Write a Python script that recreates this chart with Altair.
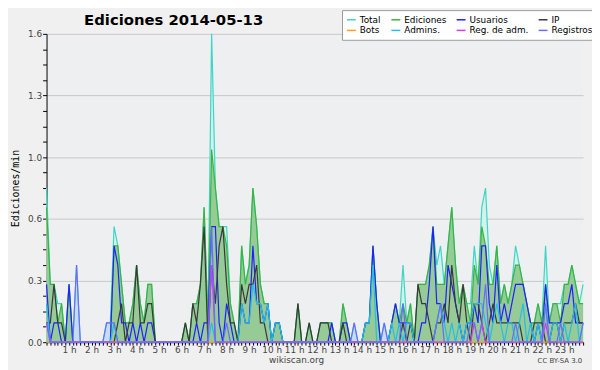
import altair as alt
import pandas as pd

# 10-minute steps over the day (144 points), values in edits/min
series = ["Total", "Ediciones", "Usuarios", "IP", "Bots", "Admins.", "Reg. de adm.", "Registros"]
colors = ["#3dd5c5", "#3cb43c", "#1f1fff", "#383838", "#ffa020", "#22bfe6", "#d23cf0", "#6a6aff"]

total = [
    .8, .3, .3, .2, .2, 0,   .3, 0, .4, 0, 0, 0,   0, 0, 0, 0, .1, .1,
    .6, .5, .3, .1, .1, .2,  .4, .2, .1, .3, .3, 0,  0, 0, 0, 0, 0, 0,
    0, .1, 0, .2, .2, .3,    .7, .1, 1.6, .8, .6, .6,  .6, .2, .1, 0, .5, .3,
    .4, .8, .6, .3, .2, .2,  0, .1, .1, 0, 0, 0,   0, .2, 0, 0, .1, 0,
    0, .1, .1, .1, .1, 0,    0, .2, .1, 0, .1, 0,  0, .1, .1, .5, .2, 0,
    .1, 0, .1, .2, .1, .4,   .1, .2, 0, .3, .3, .3,  .4, .6, .4, .5, .3, .5,
    .7, .4, .2, .3, .2, .2,  .5, .3, .7, .8, .4, .3,  .5, .2, .3, .2, .3, .5,
    .4, .3, .2, .1, .1, .2,  .1, .5, .1, .2, .2, .2,  .3, .3, .4, .3, .2, .3,
]
ediciones = [
    .7, .3, .3, .1, .2, 0,   .3, 0, 0, 0, 0, 0,   0, 0, 0, 0, 0, 0,
    .5, .5, .3, .1, .1, .2,  .4, .2, .1, .3, .3, 0,  0, 0, 0, 0, 0, 0,
    0, .1, 0, .2, .2, .3,    .7, .1, 1.0, .8, .6, .6,  .5, .2, .1, 0, .5, .3,
    .4, .8, .6, .3, .2, .2,  0, .1, .1, 0, 0, 0,   0, .2, 0, 0, .1, 0,
    0, .1, .1, .1, .1, 0,    0, .2, .1, 0, 0, 0,   0, .1, .1, .5, .2, 0,
    0, 0, .1, .2, .1, .2,    .1, .2, 0, .3, .3, .3,  .4, .6, .3, .3, .3, .5,
    .7, .4, .2, .3, .2, .1,  .4, .3, .6, .5, .3, .3,  .5, .2, .3, .2, .3, .4,
    .4, .3, .2, .1, .1, .2,  .1, .3, .1, .2, .2, .1,  .3, .3, .4, .3, .2, .2,
]
usuarios = [
    .3, 0, .1, .1, 0, 0,     .3, 0, 0, 0, 0, 0,   0, 0, 0, 0, 0, 0,
    .5, .4, .1, .1, 0, .1,   0, .1, 0, .1, .1, 0,  0, 0, 0, 0, 0, 0,
    0, 0, 0, 0, .1, 0,       .1, .1, .6, .6, .1, 0,  .2, .1, 0, 0, .2, .1,
    .1, .5, .2, .2, .1, .2,  0, .1, .1, 0, 0, 0,   0, 0, 0, 0, 0, 0,
    0, 0, 0, 0, .1, 0,       0, .1, .1, 0, 0, 0,   0, .1, .1, .5, .2, 0,
    0, 0, .1, .2, .1, .1,    .1, .1, 0, 0, .1, .1,  .3, .6, .2, .2, .1, .4,
    .3, .2, .1, 0, .1, .1,   .2, .1, .5, .5, .2, .1,  .4, .1, .2, .1, .2, .3,
    .3, .3, .2, .1, 0, .1,   0, .3, .1, .1, .1, .1,  .2, .2, .3, .1, .1, .1,
]
ip = [
    .1, .1, .3, .1, .1, 0,   0, 0, 0, 0, 0, 0,   0, 0, 0, 0, 0, 0,
    0, .1, .2, 0, .1, .1,    .4, .1, .1, .2, .2, 0,  0, 0, 0, 0, 0, 0,
    0, .1, 0, .2, .1, .3,    .6, 0, .4, .2, .5, .6,  .3, .1, .1, 0, .3, .2,
    .3, .3, .4, .1, .1, 0,   0, 0, 0, 0, 0, 0,   0, .2, 0, 0, .1, 0,
    0, .1, .1, .1, 0, 0,     0, .1, 0, 0, 0, 0,   0, 0, 0, 0, 0, 0,
    0, 0, 0, 0, 0, .1,       0, .1, 0, .3, .2, .2,  .1, 0, .1, .1, .2, .1,
    .4, .2, .1, .3, .1, 0,   .2, .2, .1, 0, .1, .2,  .1, .1, .1, .1, .1, .1,
    .1, 0, 0, 0, .1, .1,     .1, 0, 0, .1, .1, 0,  .1, .1, .1, .2, .1, .1,
]
bots = [0] * 144
admins = [
    .2, 0, 0, 0, 0, 0,       0, 0, 0, 0, 0, 0,   0, 0, 0, 0, 0, 0,
    .1, 0, 0, 0, 0, 0,       0, 0, 0, 0, 0, 0,   0, 0, 0, 0, 0, 0,
    0, 0, 0, 0, 0, 0,        0, 0, .1, 0, 0, 0,  0, 0, 0, 0, .2, .1,
    .1, .3, .2, .2, .1, .2,  0, .1, .1, 0, 0, 0,  0, 0, 0, 0, 0, 0,
    0, 0, 0, 0, 0, 0,        0, 0, 0, 0, 0, 0,   0, .1, .1, .4, 0, 0,
    0, 0, .1, 0, .1, 0,      .1, .1, 0, 0, 0, 0,  0, 0, .1, .2, .1, 0,
    .1, 0, .1, 0, .1, .1,    .2, .2, .2, .1, 0, .1,  .2, .1, 0, .1, .1, 0,
    .1, .2, 0, .1, 0, .1,    0, .2, 0, .1, .1, 0,  .1, 0, .1, .2, 0, .1,
]
reg_adm = [
    .1, 0, 0, 0, 0, 0,       0, 0, 0, 0, 0, 0,   0, 0, 0, 0, 0, 0,
    0, 0, 0, 0, 0, 0,        0, 0, 0, 0, 0, 0,   0, 0, 0, 0, 0, 0,
    0, 0, 0, 0, 0, 0,        0, 0, .4, 0, 0, 0,  0, 0, 0, 0, 0, 0,
    0, 0, 0, 0, 0, 0,        0, 0, 0, 0, 0, 0,   0, 0, 0, 0, 0, 0,
    0, 0, 0, 0, 0, 0,        0, 0, 0, 0, 0, 0,   0, 0, 0, 0, 0, 0,
    0, 0, 0, 0, 0, 0,        0, 0, 0, 0, 0, 0,   0, 0, 0, 0, 0, 0,
    0, 0, 0, 0, 0, 0,        .1, 0, .1, 0, 0, 0,  0, 0, 0, 0, 0, 0,
    0, 0, 0, 0, 0, 0,        0, .1, 0, 0, 0, 0,  0, 0, 0, 0, 0, 0,
]
registros = [
    .1, 0, 0, 0, 0, 0,       0, 0, .4, 0, 0, 0,  0, 0, 0, 0, .1, .1,
    .1, 0, 0, 0, 0, 0,       0, 0, 0, 0, 0, 0,   0, 0, 0, 0, 0, 0,
    0, 0, 0, 0, 0, 0,        0, 0, .6, 0, 0, 0,  .1, 0, 0, 0, 0, 0,
    0, 0, 0, 0, 0, 0,        0, 0, 0, 0, 0, 0,   0, 0, 0, 0, 0, 0,
    0, 0, 0, 0, 0, 0,        0, 0, 0, 0, .1, 0,  0, 0, 0, 0, 0, 0,
    .1, 0, 0, 0, 0, .2,      0, 0, 0, 0, 0, 0,   0, 0, .1, .2, 0, 0,
    0, 0, 0, 0, 0, .1,       .1, 0, .1, .3, 0, 0,  0, 0, 0, 0, 0, .1,
    0, 0, 0, 0, 0, 0,        0, .2, 0, 0, 0, .1,  0, 0, 0, 0, 0, .1,
]

values = {
    "Total": total, "Ediciones": ediciones, "Usuarios": usuarios, "IP": ip,
    "Bots": bots, "Admins.": admins, "Reg. de adm.": reg_adm, "Registros": registros,
}
rows = []
for name, vals in values.items():
    for i, v in enumerate(vals):
        rows.append({"i": i, "serie": name, "v": v})
df = pd.DataFrame(rows)

major_test = "abs(datum.value / 0.32 - round(datum.value / 0.32)) < 0.01"
x_enc = alt.X(
    "i:Q",
    scale=alt.Scale(domain=[0, 143], nice=False, zero=False),
    axis=alt.Axis(
        title=None, values=list(range(144)), grid=False,
        labelExpr="datum.value % 6 == 0 && datum.value > 0 ? (datum.value / 6) + ' h' : ''",
        labelOverlap=False, labelFlush=False, labelFont="DejaVu Sans", labelFontSize=9,
        labelColor="#444", labelPadding=0, tickSize=3, tickColor="#000", domainColor="#000",
    ),
)
y_enc = alt.Y(
    "v:Q",
    scale=alt.Scale(domain=[0, 1.6], nice=False),
    axis=alt.Axis(
        title="Ediciones/min", titleFont="DejaVu Sans Mono", titleFontSize=10,
        titleFontWeight="normal", titleColor="#000", titleX=-31, titleY=156,
        titleAngle=270, titleAlign="center", titleBaseline="middle",
        values=[round(k * 0.08, 2) for k in range(21)],
        labelExpr=major_test + " ? format(datum.value, '.1f') : ''",
        labelOverlap=False, labelFlush=False, labelFont="DejaVu Sans", labelFontSize=9,
        labelColor="#444", labelPadding=1, tickSize=4, tickColor="#000", domainColor="#000",
        grid=True, gridColor="#c8c8c8",
        gridOpacity={"condition": {"test": major_test, "value": 1}, "value": 0},
    ),
)

base = alt.Chart(df)
area_total = base.transform_filter(alt.datum.serie == "Total").mark_area(
    color="#d2f2ec", interpolate="linear").encode(x=x_enc, y=y_enc)
area_reg = base.transform_filter(alt.datum.serie == "Registros").mark_area(
    color="#c6dcf2", interpolate="linear").encode(x=x_enc, y=y_enc)
area_eds = base.transform_filter(alt.datum.serie == "Ediciones").mark_area(
    color="#96ca96", interpolate="linear").encode(x=x_enc, y=y_enc)

lines = base.mark_line(strokeWidth=1.2, interpolate="linear").encode(
    x=x_enc, y=y_enc,
    color=alt.Color(
        "serie:N", sort=series,
        scale=alt.Scale(domain=series, range=colors),
        legend=alt.Legend(
            title=None, orient="none", legendX=299, legendY=-24, columns=4,
            direction="horizontal", symbolType="stroke", symbolStrokeWidth=1.5,
            symbolSize=81, labelFont="DejaVu Sans", labelFontSize=9, labelColor="#000",
            fillColor="#ffffff", strokeColor="#999999", padding=4, columnPadding=7,
            rowPadding=-1, labelOffset=3,
        ),
    ),
)

title_txt = alt.Chart(pd.DataFrame({"t": ["Ediciones  2014-05-13"]})).mark_text(
    align="left", baseline="middle", font="DejaVu Sans", fontWeight="bold",
    fontSize=15, color="#000",
).encode(text="t:N", x=alt.value(38), y=alt.value(-14))

site_txt = alt.Chart(pd.DataFrame({"t": ["wikiscan.org"]})).mark_text(
    align="center", baseline="middle", font="DejaVu Sans", fontSize=9, color="#444",
).encode(text="t:N", x=alt.value(253), y=alt.value(330))

cc_txt = alt.Chart(pd.DataFrame({"t": ["CC BY-SA 3.0"]})).mark_text(
    align="right", baseline="middle", font="DejaVu Sans", fontSize=7, color="#444",
).encode(text="t:N", x=alt.value(542), y=alt.value(331))

chart = alt.layer(area_total, area_reg, area_eds, lines, title_txt, site_txt, cc_txt).properties(
    width=543, height=312,
    autosize=alt.AutoSizeParams(type="none"),
    padding={"left": 39, "top": 24, "right": 9, "bottom": 26},
    background="#f0f0f0",
).configure_view(fill="#edeff1", stroke=None)

chart.save("out.html", embed_options={"renderer": "svg", "actions": False})
